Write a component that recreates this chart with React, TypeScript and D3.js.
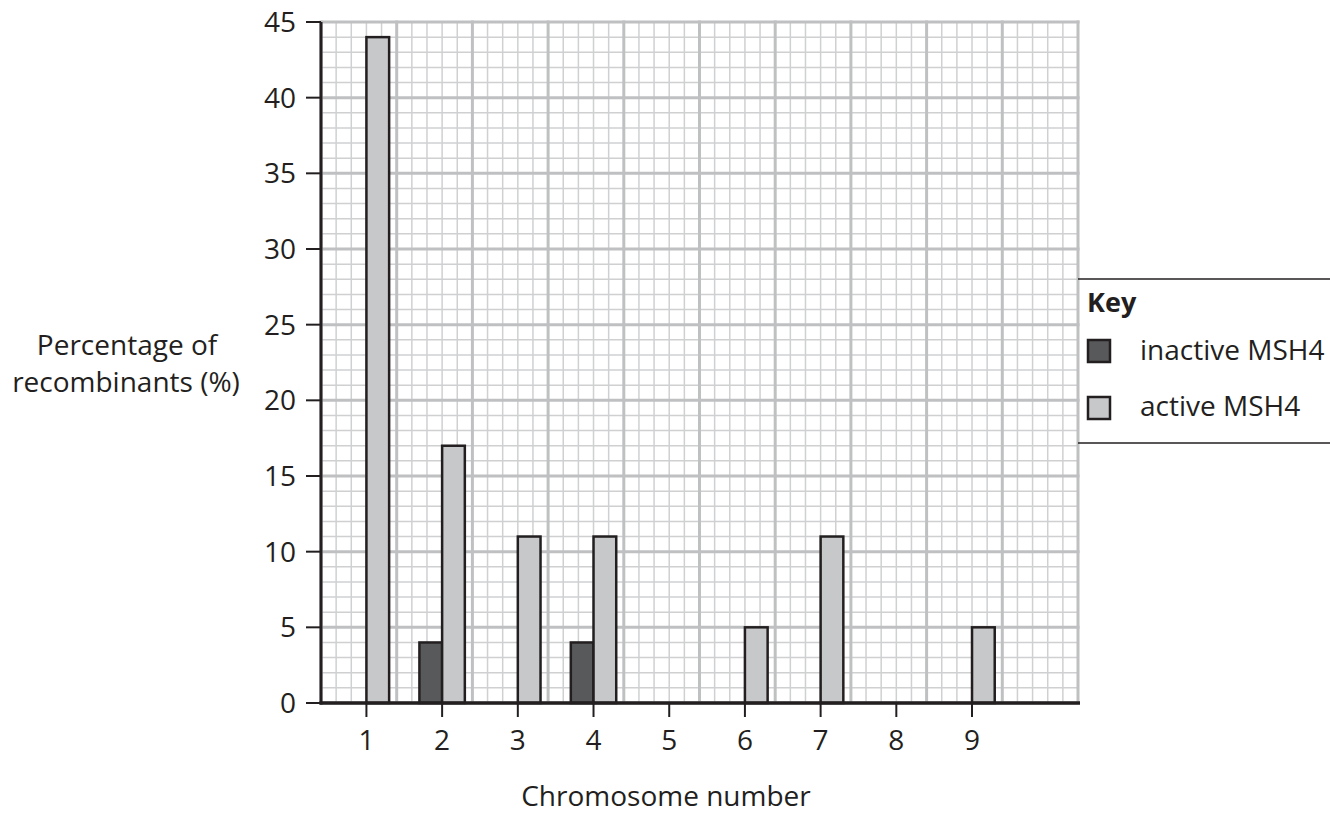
import React from "react";
import * as d3 from "d3";

const categories = [1, 2, 3, 4, 5, 6, 7, 8, 9];
const inactiveValues = [0, 4, 0, 4, 0, 0, 0, 0, 0];
const activeValues = [44, 17, 11, 11, 0, 5, 11, 0, 5];
const yTicks = [0, 5, 10, 15, 20, 25, 30, 35, 40, 45];
const legendItems = [
  { label: "inactive MSH4", color: "#58595b" },
  { label: "active MSH4", color: "#c7c8ca" },
];

const W = 1330;
const H = 818;
const left = 321;
const right = 1078;
const top = 22;
const bottom = 703;
const FONT = "'Open Sans', 'Noto Sans', sans-serif";
const FS = 28;

export default function App() {
  const x = d3.scaleLinear().domain([0, 10]).range([left, right]);
  const y = d3.scaleLinear().domain([0, 45]).range([bottom, top]);

  const minorX = d3.range(0, 10.001, 0.2);
  const minorY = d3.range(0, 45.001, 1);
  const majorX = d3.range(0, 10.001, 1);
  const majorY = d3.range(0, 45.001, 5);
  const bw = 0.3;

  return (
    <svg width={W} height={H} style={{ position: "absolute", left: 0, top: 0, background: "#fff" }}>
      <rect x={0} y={0} width={W} height={H} fill="#fff" />
      {/* minor grid */}
      {minorX.map((v, i) => (
        <line key={"mx" + i} x1={x(v)} x2={x(v)} y1={y(0)} y2={y(45)} stroke="#cfd0d2" strokeWidth={1.5} />
      ))}
      {minorY.map((v, i) => (
        <line key={"my" + i} x1={x(0)} x2={x(10)} y1={y(v)} y2={y(v)} stroke="#cfd0d2" strokeWidth={1.5} />
      ))}
      {/* major grid */}
      {majorX.map((v, i) => (
        <line key={"Mx" + i} x1={x(v)} x2={x(v)} y1={y(0)} y2={y(45) - 1.5} stroke="#bfc0c2" strokeWidth={3} />
      ))}
      {majorY.map((v, i) => (
        <line key={"My" + i} x1={x(0)} x2={x(10) + 1.5} y1={y(v)} y2={y(v)} stroke="#bfc0c2" strokeWidth={3} />
      ))}
      {/* bars */}
      {categories.map((c, i) => (
        <g key={"b" + c}>
          {inactiveValues[i] > 0 && (
            <rect
              x={x(c - 0.4 - bw)}
              y={y(inactiveValues[i])}
              width={x(c - 0.4) - x(c - 0.4 - bw)}
              height={y(0) - y(inactiveValues[i])}
              fill="#58595b"
              stroke="#231f20"
              strokeWidth={2.5}
            />
          )}
          {activeValues[i] > 0 && (
            <rect
              x={x(c - 0.4)}
              y={y(activeValues[i])}
              width={x(c - 0.4 + bw) - x(c - 0.4)}
              height={y(0) - y(activeValues[i])}
              fill="#c7c8ca"
              stroke="#231f20"
              strokeWidth={2.5}
            />
          )}
        </g>
      ))}
      {/* axes */}
      <line x1={x(0)} x2={x(0)} y1={y(45)} y2={y(0) + 1.5} stroke="#231f20" strokeWidth={3} />
      <line x1={x(0) - 1.5} x2={x(10) + 2} y1={y(0)} y2={y(0)} stroke="#231f20" strokeWidth={3.5} />
      {yTicks.map((t) => (
        <g key={"yt" + t}>
          <line x1={x(0) - 15} x2={x(0)} y1={y(t)} y2={y(t)} stroke="#231f20" strokeWidth={2} />
          <text x={x(0) - 25} y={y(t)} dy="0.36em" textAnchor="end" fontFamily={FONT} fontSize={FS} fill="#231f20">
            {t}
          </text>
        </g>
      ))}
      {categories.map((c) => (
        <g key={"xt" + c}>
          <line x1={x(c - 0.4)} x2={x(c - 0.4)} y1={y(0)} y2={y(0) + 14} stroke="#231f20" strokeWidth={2} />
          <text x={x(c - 0.4)} y={y(0) + 47} textAnchor="middle" fontFamily={FONT} fontSize={FS} fill="#231f20">
            {c}
          </text>
        </g>
      ))}
      {/* axis titles */}
      <text x={666} y={806} textAnchor="middle" fontFamily={FONT} fontSize={FS} fill="#231f20">
        Chromosome number
      </text>
      <text x={127} y={355} textAnchor="middle" fontFamily={FONT} fontSize={FS} fill="#231f20">
        Percentage of
      </text>
      <text x={126} y={392} textAnchor="middle" fontFamily={FONT} fontSize={FS} fill="#231f20">
        recombinants (%)
      </text>
      {/* legend */}
      <line x1={1078} x2={1330} y1={279} y2={279} stroke="#231f20" strokeWidth={1.5} />
      <line x1={1078} x2={1330} y1={443} y2={443} stroke="#231f20" strokeWidth={1.5} />
      <text x={1087} y={312} fontFamily={FONT} fontSize={FS - 1} fontWeight="bold" fill="#231f20">
        Key
      </text>
      {legendItems.map((it, i) => (
        <g key={it.label}>
          <rect x={1088} y={340 + i * 57} width={22} height={22} fill={it.color} stroke="#231f20" strokeWidth={2.5} />
          <text x={1140} y={360 + i * 56} fontFamily={FONT} fontSize={FS} fill="#231f20">
            {it.label}
          </text>
        </g>
      ))}
    </svg>
  );
}
